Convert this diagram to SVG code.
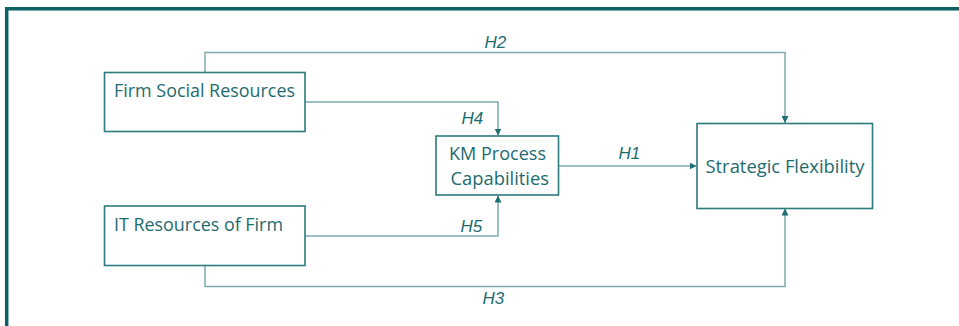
<svg xmlns="http://www.w3.org/2000/svg" width="959" height="326" viewBox="0 0 959 326">
<defs>
<style>
.frame{fill:none;stroke:#0b6166;stroke-width:3.5}
.box{fill:#fff;stroke:#2b7b7f;stroke-width:1.6}
.lbl{font-family:"Open Sans","Noto Sans",sans-serif;font-size:18px;fill:#1d6b70}
.h{font-family:"Liberation Sans",Arial,sans-serif;font-style:italic;font-size:17px;fill:#1d6b70}
.con{fill:none;stroke:#7fa9ac;stroke-width:1.5}
</style>
<marker id="arr" viewBox="0 0 10 10" refX="10" refY="5" markerWidth="7" markerHeight="7" markerUnits="userSpaceOnUse" orient="auto">
<path d="M0,0 L10,5 L0,10 Z" fill="#1f6e72"/>
</marker>
</defs>
<rect width="959" height="326" fill="#fff"/>
<path class="frame" d="M6.7,340 V8.7 H970"/>
<g id="connectors">
<path class="con" d="M205,72.5 V52.5 H785 V123" marker-end="url(#arr)"/>
<path class="con" d="M305,102 H498 V135.5" marker-end="url(#arr)"/>
<path class="con" d="M558.5,166 H696.5" marker-end="url(#arr)"/>
<path class="con" d="M305,236 H498 V195.5" marker-end="url(#arr)"/>
<path class="con" d="M205,265.5 V286.5 H785 V208.5" marker-end="url(#arr)"/>
<text class="h" x="484.5" y="48">H2</text>
<text class="h" x="461.5" y="124">H4</text>
<text class="h" x="618.5" y="159">H1</text>
<text class="h" x="460.5" y="232">H5</text>
<text class="h" x="482.5" y="304">H3</text>
</g>
<g id="firm-social">
<rect class="box" x="104.5" y="72.5" width="200.5" height="59"/>
<text class="lbl" x="114" y="97" textLength="181" lengthAdjust="spacingAndGlyphs">Firm Social Resources</text>
</g>
<g id="it-resources">
<rect class="box" x="104.5" y="206" width="200.5" height="59.5"/>
<text class="lbl" x="114" y="231" textLength="169" lengthAdjust="spacingAndGlyphs">IT Resources of Firm</text>
</g>
<g id="km-process">
<rect class="box" x="436" y="136" width="122.5" height="59"/>
<text class="lbl" x="449" y="159.5" textLength="97" lengthAdjust="spacingAndGlyphs">KM Process</text>
<text class="lbl" x="450.5" y="184.5" textLength="98.5" lengthAdjust="spacingAndGlyphs">Capabilities</text>
</g>
<g id="strategic-flexibility">
<rect class="box" x="697" y="123.5" width="175.5" height="85"/>
<text class="lbl" x="705.5" y="173" textLength="159" lengthAdjust="spacingAndGlyphs">Strategic Flexibility</text>
</g>
</svg>
